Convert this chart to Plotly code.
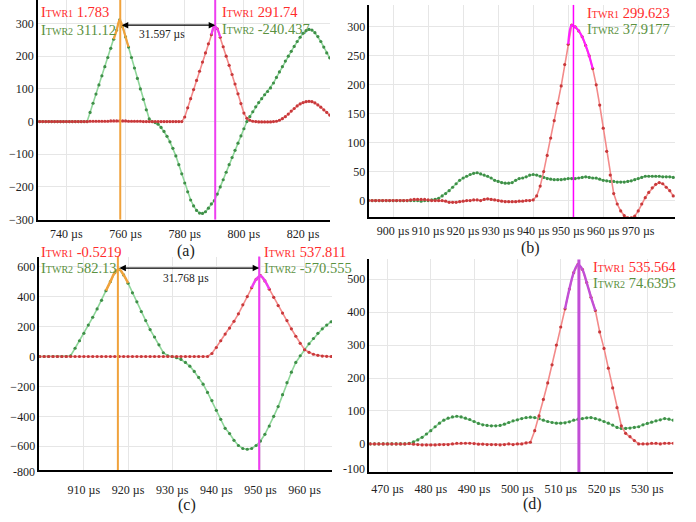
import plotly.graph_objects as go

W, H = 696, 522

# ---------------- data ----------------
# panel (a): samples every 1 us from 730 us
a_time = list(range(730, 830))
a_itwr2 = [0, 0, 0, 0, 0, 0, 0, 0, 0, 0, 0, 0, 0, 0, 0, 0, 0, 0,
           28, 56, 84, 112, 140, 168, 196, 224, 252, 280, 311, 290, 259, 228, 196, 164, 132, 100, 68, 36, 8,
           0, -3, -8, -18, -30, -45, -62, -82, -105, -132, -160, -188, -215, -240, -258, -272, -280, -281,
           -276, -265, -252, -242, -222, -200, -178, -155, -132, -110, -88, -66, -44, -22, 0, 15, 30, 45,
           58, 70, 82, 92, 103, 118, 135, 152, 168, 185, 200, 215, 230, 245, 258, 270, 278, 282, 280, 272,
           260, 245, 228, 210, 195]
a_itwr1 = [0, 0, 0, 0, 0, 0, 0, 0, 0, 0, 0, 0, 0, 0, 0, 0, 0, 0,
           1, 1, 1, 1, 1, 1, 1, 2, 2, 2, 2, 2, 2, 1, 1, 1, 1, 1, 0, 0, 0, 0, 0, 0, 0, 0, 0, 0, 0, 0, 0, 0,
           14, 42, 70, 98, 126, 154, 182, 210, 238, 266, 292, 284, 258, 229, 200, 172, 144, 115, 85, 55, 26,
           10, 4, 1, 0, -1, -1, -1, -1, -1, 0, 1, 4, 9, 15, 23, 32, 40, 48, 54, 58, 61, 62, 61, 57, 51, 44,
           36, 28, 20]

# panel (b)
b_time = list(range(893, 981))
b_itwr2 = [0, 0, 0, 0, 0, 0, 0, 0, 0, 0, 0, 0, 0, 0, 0, -1, 0, 0,
           1, 2, 4, 8, 12, 17, 23, 29, 35, 39, 42, 45, 47, 48, 46, 44, 42, 39, 35, 33, 31, 30, 30, 31, 35,
           38, 39, 41, 44, 45, 44, 42, 40, 38, 37, 36, 36, 36, 37, 38, 38, 38, 39, 40, 41, 40, 39, 39, 37,
           35, 34, 33, 33, 32, 32, 32, 33, 34, 36, 38, 40, 42, 42, 42, 42, 42, 41, 41, 41, 40]
b_itwr1 = [0, 0, 0, 0, 0, 0, 0, 0, 0, 0, 0, 0, 1,
           2, 2, 2, 2, 1, 0, 0, 0, 0, -1, -3, -3, -3, -2, -1, 0, 0, 1, 1, 0, 2, 3, 2, 1, 0, -1, -2, -2, -2,
           -2, -1, -1, 0, 0, 1, 8, 25, 50, 78, 108, 138, 168, 198, 235, 270, 303, 300, 293, 283, 268, 250,
           228, 200, 165, 125, 85, 44, 12, -6, -18, -26, -30, -30, -27, -18, -6, 5, 14, 22, 28, 31, 29, 23,
           17, 8]

# panel (c)
c_time = list(range(900, 967))
c_itwr2 = [0, 0, 0, 0, 0, 0, 0, 5, 55, 105, 155, 210, 262, 318, 375, 440, 500, 560, 582, 545, 490, 425,
           365, 300, 240, 180, 130, 78, 25, 5, 0, -8, -20, -40, -65, -100, -140, -185, -240, -295, -360,
           -420, -480, -515, -560, -595, -615, -620, -615, -595, -565, -520, -465, -400, -335, -255, -175,
           -105, -40, 5, 45, 85, 120, 155, 185, 210, 232]
c_itwr1 = [0, 0, 0, 0, 0, 0, 0, 0, 0, 0, 0, 0, 0, 0, 0, 0, 0, 0, 0, 0, 0, 0, 0, 0, 0, 0, 0, 0, 0, 0,
           0, 0, 0, 0, 0, 0, 0, 0,
           0, 20, 60, 105, 150, 190, 235, 285, 345, 400, 460, 515, 540, 505, 450, 395, 340, 290, 240, 185,
           135, 88, 45, 28, 15, 8, 3, 1, 0]

# panel (d)
d_time = list(range(466, 537))
d_itwr2 = [0, 0, 0, 0, 0, 0, 0, 0, 0,
           2, 6, 12, 20, 30, 40, 52, 63, 72, 78, 82, 84, 82, 78, 74, 68, 62, 58, 56, 55, 55, 56, 60, 65, 70,
           73, 77, 80, 81, 80, 77, 72, 68, 65, 63, 63, 64, 67, 72, 75, 77, 79, 80, 77, 73, 68, 63, 57, 50,
           47, 47, 48, 50, 52, 58, 62, 66, 70, 73, 77, 75, 72]
d_itwr1 = [0, 0, 0, 0, 0, 0, 0, 0, 0,
           1, -1, -2, -3, -3, -3, -3, -2, -2, -2, 0, 2, 2, 2, 2, 1, -1, -1, -2, -2, -2, -3, -2, 0, -2, 0,
           0, 3, 5, 40, 85, 135, 185, 240, 300, 355, 410, 470, 520, 545, 530, 490, 445, 405, 340, 290, 230,
           170, 110, 55, 32, 22, 10, 0, 0, 0, 2, 2, 0, 2, 2, 2]

# cursors and readouts
a_cur1, a_cur2 = 758.2, 790.3
b_cur2 = 951.5
c_cur1, c_cur2 = 917.7, 949.7
d_cur2 = 514.2

a_x_ticks = [740, 760, 780, 800, 820]
a_y_ticks = [-300, -200, -100, 0, 100, 200, 300]
b_x_ticks = [900, 910, 920, 930, 940, 950, 960, 970]
b_y_ticks = [0, 50, 100, 150, 200, 250, 300]
c_x_ticks = [910, 920, 930, 940, 950, 960]
c_y_ticks = [-600, -400, -200, 0, 200, 400, 600]
d_x_ticks = [470, 480, 490, 500, 510, 520, 530]
d_y_ticks = [0, 100, 200, 300, 400, 500]

# ---------------- style ----------------
FONT = "Liberation Serif, DejaVu Serif, Times New Roman, serif"
G_LINE, G_DOT = "#8fd69a", "#3f8f48"
R_LINE, R_DOT = "#f38a8a", "#c8393b"
RED_TXT, GRN_TXT = "#ff2b2b", "#5a9140"
ORANGE = "#f0a23c"
MAGENTA = "#ee3ef0"


def px(x):
    return x / W


def py(y):
    return 1 - y / H


panels = {
    # name: (x px range, y px range(top,bottom), xrange, yrange, xticks, yticks, x-label standoff)
    "a": ((38, 330), (0, 222.6), [730.4, 829.1], [-300, 372], a_x_ticks, a_y_ticks, 2),
    "b": ((369.3, 675), (5, 220), [893.2, 980.5], [-28.5, 338], b_x_ticks, b_y_ticks, 2),
    "c": ((39.3, 332), (260, 476.3), [899.9, 966.2], [-758, 668], c_x_ticks, c_y_ticks, 8),
    "d": ((369.3, 673.3), (263, 478.3), [465.8, 536.0], [-85, 560], d_x_ticks, d_y_ticks, 5),
}
order = ["a", "b", "c", "d"]

fig = go.Figure()
layout = dict(
    width=W, height=H, margin=dict(l=0, r=0, t=0, b=0),
    paper_bgcolor="white", plot_bgcolor="white", showlegend=False,
    font=dict(family=FONT, size=12, color="#222"),
)

for i, name in enumerate(order):
    (x0, x1), (y0, y1), xr, yr, xt, yt, so = panels[name]
    sfx = "" if i == 0 else str(i + 1)
    layout["xaxis" + sfx] = dict(
        domain=[px(x0), px(x1)], range=xr, anchor="y" + sfx,
        tickvals=xt, ticktext=[f"{v} µs" for v in xt],
        showgrid=True, gridcolor="#e6e6e6", gridwidth=1, zeroline=False,
        showline=True, linecolor="black", linewidth=1.5, ticks="", ticklabelstandoff=so,
        tickfont=dict(family=FONT, size=12, color="#222"),
    )
    layout["yaxis" + sfx] = dict(
        domain=[py(y1), py(y0)], range=yr, anchor="x" + sfx,
        tickvals=yt, showgrid=True, gridcolor="#e6e6e6", gridwidth=1, zeroline=False,
        showline=True, linecolor="black", linewidth=1.5, ticks="",
        tickfont=dict(family=FONT, size=12, color="#222"),
    )

fig.update_layout(**layout)

series = {
    "a": (a_time, a_itwr2, a_itwr1),
    "b": (b_time, b_itwr2, b_itwr1),
    "c": (c_time, c_itwr2, c_itwr1),
    "d": (d_time, d_itwr2, d_itwr1),
}

for i, name in enumerate(order):
    sfx = "" if i == 0 else str(i + 1)
    t, g, r = series[name]
    fig.add_trace(go.Scatter(x=t, y=g, mode="lines+markers", xaxis="x" + sfx, yaxis="y" + sfx,
                             line=dict(color=G_LINE, width=1.6),
                             marker=dict(color=G_DOT, size=3.2), cliponaxis=True))
    fig.add_trace(go.Scatter(x=t, y=r, mode="lines+markers", xaxis="x" + sfx, yaxis="y" + sfx,
                             line=dict(color=R_LINE, width=1.6),
                             marker=dict(color=R_DOT, size=3.2), cliponaxis=True))


def highlight(name, which, t_lo, t_hi, color, width):
    i = order.index(name)
    sfx = "" if i == 0 else str(i + 1)
    t, g, r = series[name]
    vals = g if which == "g" else r
    xs = [tt for tt in t if t_lo <= tt <= t_hi]
    ys = [vals[t.index(tt)] for tt in xs]
    fig.add_trace(go.Scatter(x=xs, y=ys, mode="lines", line=dict(color=color, width=width, shape="spline"),
                             xaxis="x" + sfx, yaxis="y" + sfx))


highlight("a", "g", 756, 761, ORANGE, 2.2)
highlight("a", "r", 789, 792, MAGENTA, 2.2)
highlight("b", "r", 950, 957, "#ff20ff", 2.2)
highlight("c", "g", 915, 920, ORANGE, 2.5)
highlight("c", "r", 948, 952, MAGENTA, 2.5)
highlight("d", "r", 511, 518, "#c24fd6", 2.4)

shapes = []


def vline(name, xv, color, width):
    i = order.index(name)
    sfx = "" if i == 0 else str(i + 1)
    shapes.append(dict(type="line", xref="x" + sfx, yref=f"y{sfx} domain", x0=xv, x1=xv, y0=0, y1=1,
                       line=dict(color=color, width=width), layer="above"))


vline("a", a_cur1, ORANGE, 2)
vline("a", a_cur2, MAGENTA, 2)
vline("b", b_cur2, "#ff00ff", 1.5)
vline("c", c_cur1, ORANGE, 2)
vline("c", c_cur2, MAGENTA, 2)
vline("d", d_cur2, "#c24fd6", 3)

# white label boxes hiding grid behind readouts
shapes.append(dict(type="rect", xref="paper", yref="paper", x0=px(483), x1=px(675), y0=py(40), y1=py(5),
                   fillcolor="white", line=dict(width=0), layer="between"))
shapes.append(dict(type="rect", xref="paper", yref="paper", x0=px(586), x1=px(673), y0=py(297), y1=py(263),
                   fillcolor="white", line=dict(width=0), layer="between"))
fig.update_layout(shapes=shapes)

ann = []


def label(xp, yp, tag, value, color):
    ann.append(dict(xref="paper", yref="paper", x=px(xp), y=py(yp), xanchor="left", yanchor="middle",
                    showarrow=False,
                    text=f"I<span style='font-size:10px'>{tag}</span> {value}",
                    font=dict(family=FONT, size=14.5, color=color)))


label(39, 12, "TWR1", "1.783", RED_TXT)
label(39, 30, "TWR2", "311.12", GRN_TXT)
label(220, 12, "TWR1", "291.74", RED_TXT)
label(220, 29, "TWR2", "-240.437", GRN_TXT)
label(585, 13, "TWR1", "299.623", RED_TXT)
label(585, 29, "TWR2", "37.9177", GRN_TXT)
label(39, 255, "TWR1", "-0.5219", RED_TXT)
label(39, 272, "TWR2", "582.13", GRN_TXT)
label(262, 255, "TWR1", "537.811", RED_TXT)
label(262, 272, "TWR2", "-570.555", GRN_TXT)
label(591, 271, "TWR1", "535.564", RED_TXT)
label(591, 287, "TWR2", "74.6395", GRN_TXT)

# measurement arrows
ann.append(dict(xref="x", yref="y", axref="x", ayref="y", x=a_cur2, y=295, ax=a_cur1, ay=295, text="",
                showarrow=True, arrowhead=2, arrowside="end+start", arrowsize=1, arrowwidth=1.3,
                arrowcolor="black", standoff=0, startstandoff=0))
ann.append(dict(xref="paper", yref="paper", x=px(162), y=py(35), text="31.597 µs", showarrow=False,
                xanchor="center", yanchor="middle", font=dict(family=FONT, size=11.5, color="#222")))
ann.append(dict(xref="x3", yref="y3", axref="x3", ayref="y3", x=c_cur2, y=591, ax=c_cur1, ay=591, text="",
                showarrow=True, arrowhead=2, arrowside="end+start", arrowsize=1, arrowwidth=1.3,
                arrowcolor="black", standoff=0, startstandoff=0))
ann.append(dict(xref="paper", yref="paper", x=px(186), y=py(282.5), text="31.768 µs", showarrow=False,
                xanchor="center", yanchor="middle", font=dict(family=FONT, size=11.5, color="#222")))

# clamped bottom tick labels
ann.append(dict(xref="x3 domain", yref="y3 domain", x=0, y=0, xanchor="right", yanchor="middle", xshift=-2,
                yshift=-2, text="-800", showarrow=False, font=dict(family=FONT, size=12, color="#222")))
ann.append(dict(xref="x4 domain", yref="y4 domain", x=0, y=0, xanchor="right", yanchor="middle", xshift=-2,
                yshift=3, text="-100", showarrow=False, font=dict(family=FONT, size=12, color="#222")))

# captions
for cx, cy, txt in [(186, 254, "(a)"), (530, 251, "(b)"), (187, 512, "(c)"), (532, 511, "(d)")]:
    ann.append(dict(xref="paper", yref="paper", x=px(cx), y=py(cy), text=txt, showarrow=False,
                    xanchor="center", yanchor="middle", font=dict(family=FONT, size=16, color="#222")))

fig.update_layout(annotations=ann)
fig.write_html("out.html")
